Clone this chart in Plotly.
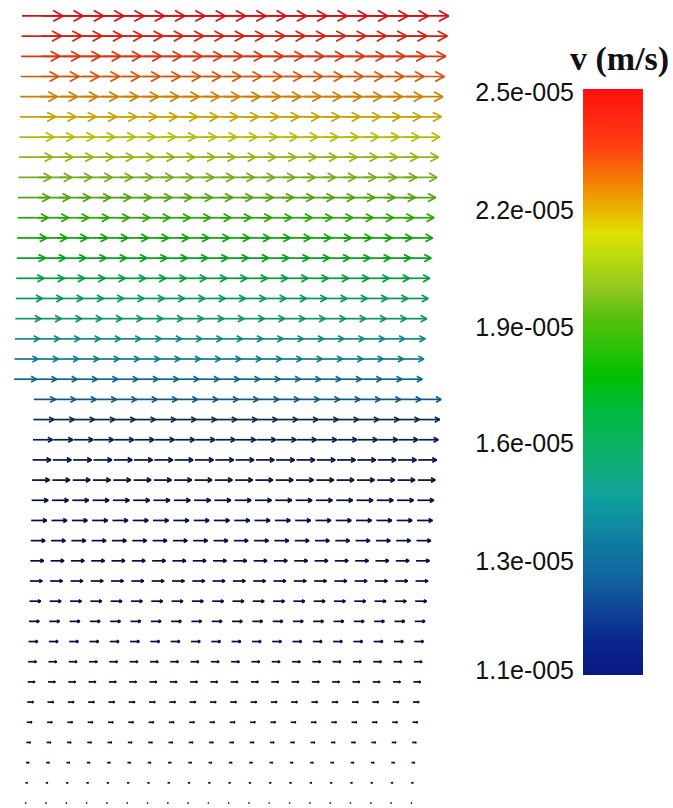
import plotly.graph_objects as go
from plotly.colors import sample_colorscale, unlabel_rgb

# Flow speed on each grid row, listed from the top row down (m/s)
row_speed = [
    2.50e-5, 2.44e-5, 2.37e-5, 2.31e-5, 2.25e-5, 2.19e-5, 2.12e-5, 2.06e-5,
    2.00e-5, 1.94e-5, 1.87e-5, 1.81e-5, 1.75e-5, 1.69e-5, 1.62e-5, 1.56e-5,
    1.50e-5, 1.44e-5, 1.37e-5, 1.31e-5, 1.25e-5, 1.19e-5, 1.12e-5, 1.06e-5,
    1.00e-5, 0.94e-5, 0.87e-5, 0.81e-5, 0.75e-5, 0.69e-5, 0.62e-5, 0.56e-5,
    0.50e-5, 0.44e-5, 0.37e-5, 0.31e-5, 0.25e-5, 0.19e-5, 0.12e-5, 0.06e-5,
]

# Grid columns used by the upper and lower parts of the domain
upper_cols = list(range(0, 20))
lower_cols = list(range(1, 21))
lower_row_count = 21          # rows counted from the bottom that use lower_cols

# Colour legend range and its labels
cbar_min, cbar_max = 1.06e-5, 2.50e-5
cbar_tick_vals = [2.493e-5, 2.203e-5, 1.915e-5, 1.630e-5, 1.340e-5, 1.0725e-5]
cbar_tick_text = ["2.5e-005", "2.2e-005", "1.9e-005", "1.6e-005", "1.3e-005", "1.1e-005"]

rainbow = [
    [0.000, "rgb(8,24,128)"],
    [0.060, "rgb(10,40,144)"],
    [0.116, "rgb(16,72,152)"],
    [0.174, "rgb(16,104,160)"],
    [0.218, "rgb(16,120,160)"],
    [0.299, "rgb(16,160,160)"],
    [0.372, "rgb(16,176,112)"],
    [0.447, "rgb(0,184,64)"],
    [0.509, "rgb(0,192,0)"],
    [0.618, "rgb(96,192,16)"],
    [0.657, "rgb(144,200,32)"],
    [0.703, "rgb(176,216,16)"],
    [0.754, "rgb(224,224,0)"],
    [0.828, "rgb(240,144,0)"],
    [0.901, "rgb(255,64,16)"],
    [1.000, "rgb(255,16,16)"],
]

# Glyph geometry (in grid-column units)
LEN_PER_SPEED = 2.02 / 2.5e-5   # arrow length per m/s
HEAD_LEN = 0.24                 # arrowhead length as a fraction of the arrow
HEAD_HALF = 0.13                # arrowhead half-width as a fraction of the arrow
SHEAR = 0.0219                  # slight skew of the viewing plane per row
Y_PER_X = 20.3 / 20.18          # grid aspect (column pitch / row pitch)
SHADE = 0.86                    # glyph shading relative to the legend colours


def glyph_color(v):
    frac = min(max((v - cbar_min) / (cbar_max - cbar_min), 0.0), 1.0)
    r, g, b = unlabel_rgb(sample_colorscale(rainbow, [frac], colortype="rgb")[0])
    k = SHADE if frac > 0.15 else SHADE * 0.62
    return f"rgb({r * k:.0f},{g * k:.0f},{b * k:.0f})"


n_rows = len(row_speed)
fig = go.Figure()

tails_x, tails_c = [], []
for k, v in enumerate(row_speed):
    j = n_rows - 1 - k
    cols = lower_cols if j < lower_row_count else upper_cols
    L = v * LEN_PER_SPEED
    hx = HEAD_LEN * L
    hy = HEAD_HALF * L * Y_PER_X
    xs, ys = [], []
    for i in cols:
        x0 = i + SHEAR * j
        tip = x0 + L
        xs += [x0, tip, None, tip - hx, tip, tip - hx, None]
        ys += [j, j, None, j + hy, j, j - hy, None]
        tails_x.append(x0)
        tails_c.append(v)
    fig.add_trace(go.Scatter(
        x=xs, y=ys, mode="lines",
        line=dict(color=glyph_color(v), width=1.7),
        hoverinfo="skip", showlegend=False,
    ))

# Invisible markers carrying the speed values; they drive the colour legend
# and sit on a speed axis that carries the legend's labels
fig.add_trace(go.Scatter(
    x=tails_x, y=tails_c, mode="markers", yaxis="y2",
    marker=dict(
        size=1, opacity=0, color=tails_c, colorscale=rainbow,
        cmin=cbar_min, cmax=cbar_max, showscale=True,
        colorbar=dict(
            thickness=60, thicknessmode="pixels",
            len=586, lenmode="pixels",
            x=583 / 673, xanchor="left", xref="container",
            y=1 - 89 / 808, yanchor="top", yref="container",
            xpad=0, ypad=0, outlinewidth=0,
            ticks="", showticklabels=False,
        ),
    ),
    hoverinfo="skip", showlegend=False,
))

fig.add_annotation(
    text="<b>v (m/s)</b>", x=619 / 673, y=1 - 59 / 808,
    xref="paper", yref="paper", xanchor="center", yanchor="middle",
    showarrow=False,
    font=dict(family="Liberation Serif, Times New Roman", size=34, color="#111111"),
)

fig.update_xaxes(range=[-0.2315, 32.92], visible=False, domain=[0, 1])
fig.update_layout(
    width=673, height=808,
    margin=dict(l=0, r=0, t=0, b=0, autoexpand=False),
    plot_bgcolor="rgba(0,0,0,0)", paper_bgcolor="white",
    showlegend=False,
    yaxis=dict(range=[-0.248, 39.79], visible=False, domain=[0, 1]),
    yaxis2=dict(
        domain=[1 - 675 / 808, 1 - 89 / 808], range=[cbar_min, cbar_max],
        anchor="free", position=574 / 673, side="left",
        tickvals=cbar_tick_vals, ticktext=cbar_tick_text, ticks="",
        showgrid=False, zeroline=False, showline=False,
        tickfont=dict(family="Liberation Sans, Arial", size=25, color="#111111"),
    ),
)

fig.write_html("out.html")
